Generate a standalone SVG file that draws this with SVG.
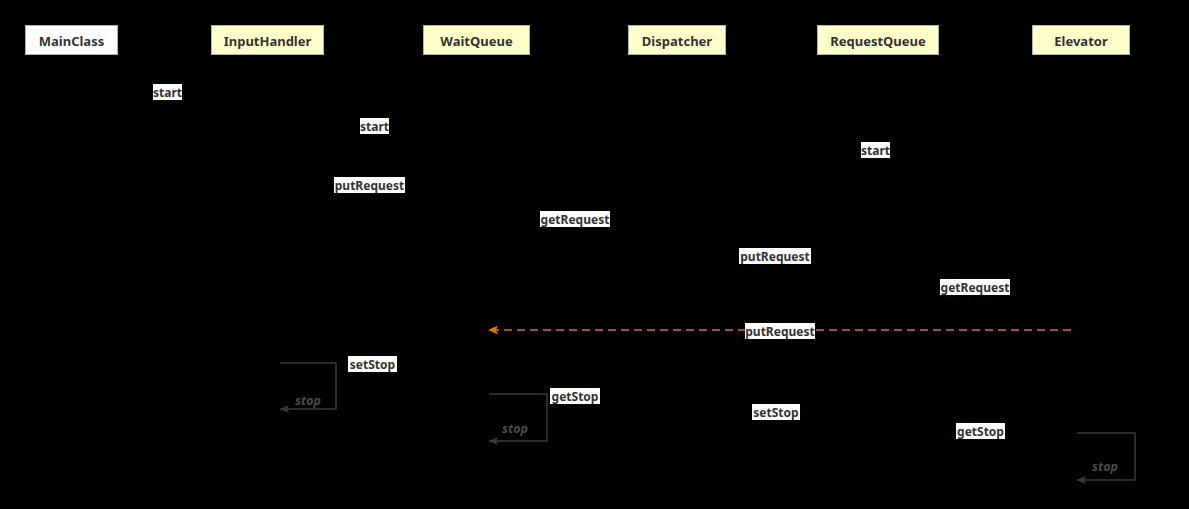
<svg xmlns="http://www.w3.org/2000/svg" width="1189" height="509" viewBox="0 0 1189 509">
<defs>
<style>
.box{stroke:#b0b0b0;stroke-width:1}
.nt{font-family:"Noto Sans","Open Sans",sans-serif;font-weight:bold;font-size:13px;fill:#333;text-anchor:middle}
.lb{font-family:"Noto Sans","Open Sans",sans-serif;font-weight:bold;font-size:12px;fill:#333;text-anchor:middle}
.lbg{fill:#fff}
.life{stroke:#000;stroke-width:1;fill:none}
.msg{stroke:#000;stroke-width:1;fill:none}
.loop{stroke:#3a3a3a;stroke-width:1.5;fill:none}
.st{font-family:"Noto Sans","Open Sans",sans-serif;font-weight:bold;font-style:italic;font-size:12.5px;fill:#4a4a4a;text-anchor:middle}
.ret{stroke:#d9731a;stroke-width:1.5;stroke-dasharray:8,5;fill:none}
</style>
<marker id="ah" markerWidth="10" markerHeight="8" refX="9" refY="4" orient="auto" markerUnits="userSpaceOnUse"><path d="M0,0 L9,4 L0,8 z" fill="#000"/></marker>
<marker id="ahg" markerWidth="10" markerHeight="8" refX="9" refY="4" orient="auto" markerUnits="userSpaceOnUse"><path d="M0,0 L9,4 L0,8 L2,4 z" fill="#3a3a3a"/></marker>
<marker id="aho" markerWidth="12" markerHeight="9" refX="10" refY="4.5" orient="auto" markerUnits="userSpaceOnUse"><path d="M0,0 L10,4.5 L0,9 L2,4.5 z" fill="#d9731a"/></marker>
</defs>
<rect x="0" y="0" width="1189" height="509" fill="#000"/>
<g id="lifelines">
<line class="life" x1="71" y1="54" x2="71" y2="500"/>
<line class="life" x1="267" y1="54" x2="267" y2="500"/>
<line class="life" x1="476" y1="54" x2="476" y2="500"/>
<line class="life" x1="676" y1="54" x2="676" y2="500"/>
<line class="life" x1="877" y1="54" x2="877" y2="500"/>
<line class="life" x1="1080" y1="54" x2="1080" y2="500"/>
</g>
<g id="MainClass"><rect class="box" x="25.5" y="25.5" width="92" height="29" fill="#fff"/><text class="nt" x="71.5" y="45.5">MainClass</text></g>
<g id="InputHandler"><rect class="box" x="211.5" y="25.5" width="112" height="29" fill="#ffffcc"/><text class="nt" x="267.5" y="45.5">InputHandler</text></g>
<g id="WaitQueue"><rect class="box" x="423.5" y="25.5" width="106" height="29" fill="#ffffcc"/><text class="nt" x="476.5" y="45.5">WaitQueue</text></g>
<g id="Dispatcher"><rect class="box" x="628.5" y="25.5" width="97" height="29" fill="#ffffcc"/><text class="nt" x="677" y="45.5">Dispatcher</text></g>
<g id="RequestQueue"><rect class="box" x="817.5" y="25.5" width="121" height="29" fill="#ffffcc"/><text class="nt" x="878" y="45.5">RequestQueue</text></g>
<g id="Elevator"><rect class="box" x="1032.5" y="25.5" width="97" height="29" fill="#ffffcc"/><text class="nt" x="1081" y="45.5">Elevator</text></g>
<g id="connectors">
<line class="msg" x1="71" y1="92" x2="267" y2="92" marker-end="url(#ah)"/>
<line class="msg" x1="71" y1="126" x2="676" y2="126" marker-end="url(#ah)"/>
<line class="msg" x1="676" y1="150" x2="1080" y2="150" marker-end="url(#ah)"/>
<line class="msg" x1="267" y1="185" x2="476" y2="185" marker-end="url(#ah)"/>
<line class="msg" x1="676" y1="219" x2="476" y2="219" marker-end="url(#ah)"/>
<line class="msg" x1="676" y1="256" x2="877" y2="256" marker-end="url(#ah)"/>
<line class="msg" x1="1080" y1="287" x2="877" y2="287" marker-end="url(#ah)"/>
<line class="ret" x1="1071" y1="330" x2="488" y2="330" marker-end="url(#aho)"/>
<line class="msg" x1="71" y1="364" x2="476" y2="364" marker-end="url(#ah)"/>
<line class="msg" x1="676" y1="396" x2="476" y2="396" marker-end="url(#ah)"/>
<line class="msg" x1="676" y1="412" x2="877" y2="412" marker-end="url(#ah)"/>
<line class="msg" x1="1080" y1="431" x2="877" y2="431" marker-end="url(#ah)"/>
<polyline class="loop" points="280,363 336,363 336,409 280,409" marker-end="url(#ahg)"/>
<polyline class="loop" points="489,394 547,394 547,441 489,441" marker-end="url(#ahg)"/>
<polyline class="loop" points="1077,433 1135,433 1135,480 1077,480" marker-end="url(#ahg)"/>
<text class="st" x="308" y="405">stop</text>
<text class="st" x="515" y="433">stop</text>
<text class="st" x="1105" y="471">stop</text>
</g>
<g id="labels">
<rect class="lbg" x="153" y="84" width="29" height="16"/><text class="lb" x="167.5" y="96.5">start</text>
<rect class="lbg" x="360" y="118" width="29" height="16"/><text class="lb" x="374.5" y="130.5">start</text>
<rect class="lbg" x="861" y="142" width="29" height="16"/><text class="lb" x="875.5" y="154.5">start</text>
<rect class="lbg" x="334" y="177" width="71" height="16"/><text class="lb" x="369.5" y="189.5">putRequest</text>
<rect class="lbg" x="540" y="211" width="70" height="16"/><text class="lb" x="575" y="223.5">getRequest</text>
<rect class="lbg" x="739" y="248" width="72" height="16"/><text class="lb" x="775" y="260.5">putRequest</text>
<rect class="lbg" x="940" y="279" width="70" height="16"/><text class="lb" x="975" y="291.5">getRequest</text>
<rect class="lbg" x="745" y="323" width="70" height="16"/><text class="lb" x="780" y="335.5">putRequest</text>
<rect class="lbg" x="348" y="356" width="49" height="16"/><text class="lb" x="372.5" y="368.5">setStop</text>
<rect class="lbg" x="550" y="388" width="50" height="16"/><text class="lb" x="575" y="400.5">getStop</text>
<rect class="lbg" x="752" y="404" width="48" height="16"/><text class="lb" x="776" y="416.5">setStop</text>
<rect class="lbg" x="956" y="423" width="49" height="16"/><text class="lb" x="980.5" y="435.5">getStop</text>
</g>
</svg>
